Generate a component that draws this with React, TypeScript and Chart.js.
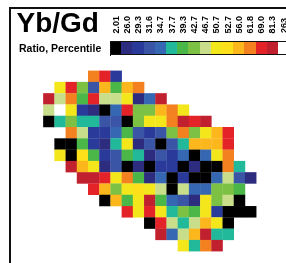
import React, { useEffect, useRef } from "react";
import { Chart, registerables } from "chart.js";

Chart.register(...registerables);

// Percentile class colours (index = class)
const palette = [
  "#000000", "#2e2c7e", "#2a3a9b", "#3a55a6", "#3567b2", "#21b99a",
  "#4cb749", "#7cc143", "#c9de8b", "#f3e71b", "#fde01a", "#fcb71c",
  "#f4811f", "#e42329", "#c1202e", "#ffffff",
];
const legendLabels = [
  "2.01", "26.0", "29.3", "31.6", "34.7", "37.7", "39.3", "42.7",
  "46.7", "50.7", "52.7", "56.0", "61.8", "69.0", "81.3", "263",
];
const title = "Yb/Gd";
const subtitle = "Ratio, Percentile";

// Grid: first occupied column of each row, then class index of each cell
const rowStart = [4, 1, 0, 0, 0, 2, 1, 1, 2, 3, 4, 5, 7, 9, 10, 12];
const rowClasses = [
  [12, 13, 2],
  [9, 13, 7, 3, 11, 6, 11, 12],
  [14, 8, 12, 6, 13, 8, 8, 9, 1, 4, 14],
  [8, 15, 9, 2, 1, 0, 4, 13, 7, 7, 11, 12, 9],
  [0, 5, 7, 5, 5, 3, 3, 0, 7, 9, 9, 12, 14, 13, 14],
  [12, 8, 2, 2, 4, 6, 3, 2, 3, 7, 12, 7, 9, 11, 13],
  [0, 0, 6, 2, 1, 5, 9, 1, 3, 0, 3, 5, 11, 11, 11, 13],
  [9, 0, 10, 6, 2, 3, 6, 5, 1, 3, 2, 4, 0, 4, 9, 12],
  [14, 11, 9, 1, 3, 0, 1, 0, 2, 2, 0, 1, 0, 0, 12, 5],
  [14, 14, 13, 9, 12, 6, 1, 4, 0, 2, 0, 0, 4, 8, 3, 1],
  [13, 11, 7, 9, 10, 9, 8, 0, 8, 4, 4, 7, 7, 6],
  [0, 11, 6, 9, 14, 6, 4, 3, 1, 9, 7, 8, 0],
  [13, 9, 13, 9, 5, 7, 6, 9, 2, 0, 0, 0],
  [0, 13, 8, 5, 8, 11, 9, 0],
  [14, 4, 8, 11, 14, 5, 5],
  [9, 5, 12, 14],
];
const gridCols = 19;
const gridRows = 16;

const FONT = '"Liberation Sans", Arial, sans-serif';

export default function App() {
  const canvasRef = useRef<HTMLCanvasElement | null>(null);

  useEffect(() => {
    const canvas = canvasRef.current;
    if (!canvas) return;
    const points: { x: number; y: number; v: number }[] = [];
    rowClasses.forEach((row, r) => {
      row.forEach((v, i) => points.push({ x: rowStart[r] + i, y: r, v }));
    });
    const chart = new Chart(canvas, {
      type: "scatter",
      data: {
        datasets: [
          {
            data: points as any,
            pointStyle: "rect",
            pointRadius: (ctx: any) => {
              const a = ctx.chart.chartArea;
              if (!a) return 8;
              const w = (a.right - a.left) / gridCols;
              const h = (a.bottom - a.top) / gridRows;
              return (Math.max(w, h) / Math.SQRT2) * 1.02;
            },
            pointHoverRadius: (ctx: any) => {
              const a = ctx.chart.chartArea;
              if (!a) return 8;
              return ((a.right - a.left) / gridCols / Math.SQRT2) * 1.02;
            },
            backgroundColor: (ctx: any) => palette[ctx.raw ? ctx.raw.v : 0],
            borderWidth: 0,
            hoverBorderWidth: 0,
            clip: false as any,
          } as any,
        ],
      },
      options: {
        responsive: false,
        animation: false,
        events: [],
        layout: { padding: { left: 43.3, right: 29.7, top: 70.7, bottom: 11.7 } },
        plugins: { legend: { display: false }, tooltip: { enabled: false } },
        scales: {
          x: { type: "linear", min: -0.5, max: gridCols - 0.5, display: false },
          y: { type: "linear", min: -0.5, max: gridRows - 0.5, reverse: true, display: false },
        },
      },
    });
    return () => chart.destroy();
  }, []);

  const cellW = 11.2;
  const barLeft = 110;

  return (
    <div
      style={{
        position: "absolute",
        left: 0,
        top: 0,
        width: 286,
        height: 263,
        overflow: "hidden",
        background: "#ffffff",
        fontFamily: FONT,
      }}
    >
      <canvas
        ref={canvasRef}
        width={286}
        height={263}
        style={{ position: "absolute", left: 0, top: 0 }}
      />
      {/* frame lines */}
      <div style={{ position: "absolute", left: 9, top: 7, width: 1.5, height: 260, background: "#111" }} />
      <div style={{ position: "absolute", left: 9, top: 7, width: 280, height: 1.5, background: "#111" }} />
      {/* title */}
      <div
        style={{
          position: "absolute",
          left: 16.5,
          top: 9.3,
          fontSize: 28,
          lineHeight: "28px",
          fontWeight: "bold",
          color: "#000",
          whiteSpace: "nowrap",
        }}
      >
        {title}
      </div>
      <div
        style={{
          position: "absolute",
          left: 19,
          top: 42.3,
          fontSize: 10.5,
          lineHeight: "12px",
          fontWeight: "bold",
          color: "#000",
          whiteSpace: "nowrap",
        }}
      >
        {subtitle}
      </div>
      {/* legend colour bar */}
      {palette.map((c, i) => (
        <div
          key={"c" + i}
          style={{
            position: "absolute",
            left: barLeft + i * cellW,
            top: 41,
            width: cellW + 0.3,
            height: 14,
            background: c,
          }}
        />
      ))}
      <div style={{ position: "absolute", left: barLeft, top: 40.5, width: 190, height: 1.2, background: "#111" }} />
      <div style={{ position: "absolute", left: barLeft, top: 54.3, width: 190, height: 1.2, background: "#111" }} />
      <div style={{ position: "absolute", left: barLeft, top: 40.5, width: 1.2, height: 15, background: "#111" }} />
      {/* legend labels */}
      {legendLabels.map((t, i) => (
        <div
          key={"l" + i}
          style={{
            position: "absolute",
            left: barLeft + (i + 0.5) * cellW - 5,
            bottom: 263 - 33.5,
            writingMode: "vertical-rl",
            transform: "rotate(180deg)",
            fontSize: 9,
            lineHeight: "10px",
            fontWeight: "bold",
            color: "#000",
            whiteSpace: "nowrap",
          }}
        >
          {t}
        </div>
      ))}
    </div>
  );
}
